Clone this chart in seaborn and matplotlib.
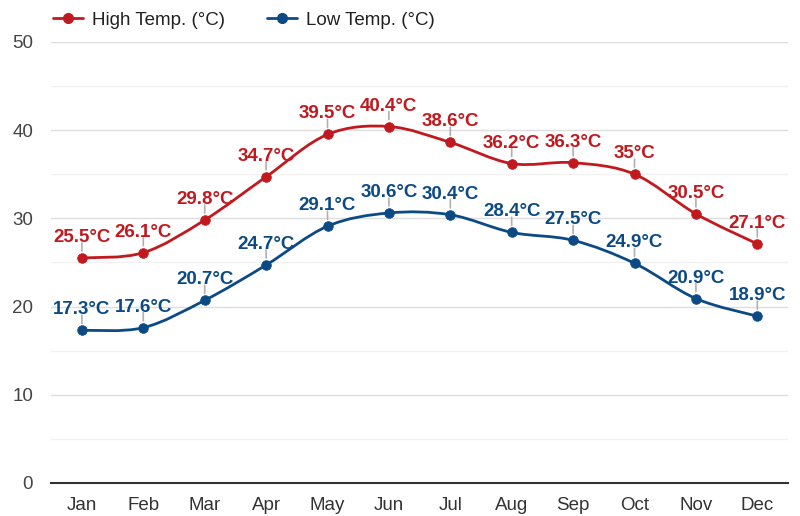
import matplotlib.pyplot as plt
import pandas as pd
import seaborn as sns
from matplotlib.lines import Line2D
from matplotlib.path import Path
from matplotlib.patches import PathPatch

months = ["Jan", "Feb", "Mar", "Apr", "May", "Jun", "Jul", "Aug", "Sep", "Oct", "Nov", "Dec"]
high_temp = [25.5, 26.1, 29.8, 34.7, 39.5, 40.4, 38.6, 36.2, 36.3, 35, 30.5, 27.1]
low_temp = [17.3, 17.6, 20.7, 24.7, 29.1, 30.6, 30.4, 28.4, 27.5, 24.9, 20.9, 18.9]

RED = "#c2191f"
BLUE = "#0c4a86"

sns.set_theme(style="white")
plt.rcParams["font.family"] = ["Liberation Sans", "DejaVu Sans"]


def smooth_path(xs, ys):
    # cubic bezier segments (catmull-rom style) so the curve passes through every point
    pts = list(zip(xs, ys))
    verts = [pts[0]]
    codes = [Path.MOVETO]
    n = len(pts)
    for i in range(n - 1):
        p0 = pts[i - 1] if i > 0 else pts[i]
        p1 = pts[i]
        p2 = pts[i + 1]
        p3 = pts[i + 2] if i + 2 < n else pts[i + 1]
        c1 = (p1[0] + (p2[0] - p0[0]) / 6, p1[1] + (p2[1] - p0[1]) / 6)
        c2 = (p2[0] - (p3[0] - p1[0]) / 6, p2[1] - (p3[1] - p1[1]) / 6)
        verts += [c1, c2, p2]
        codes += [Path.CURVE4] * 3
    return Path(verts, codes)


def label_fmt(v):
    return f"{v:g}°C"


df = pd.DataFrame({"month": months, "High": high_temp, "Low": low_temp})
df["x"] = range(len(months))

fig = plt.figure(figsize=(8, 5.16), dpi=100)
ax = fig.add_axes([0.064, 0.064, 0.921, 0.855])

for col, color in [("High", RED), ("Low", BLUE)]:
    patch = PathPatch(smooth_path(df["x"], df[col]), facecolor="none", edgecolor=color, lw=2, zorder=3)
    ax.add_patch(patch)
    sns.scatterplot(data=df, x="x", y=col, color=color, s=48, edgecolor=color, zorder=4, ax=ax)
    for x, v in zip(df["x"], df[col]):
        ax.annotate("", xy=(x, v), xytext=(0, 15), textcoords="offset pixels",
                    arrowprops=dict(arrowstyle="-", color="#b0b0b0", lw=1.2, shrinkA=0, shrinkB=5))
        ax.annotate(label_fmt(v), xy=(x, v), xytext=(0, 12), textcoords="offset pixels",
                    ha="center", va="bottom", color=color, fontsize=13.5, fontweight="bold", zorder=5)

ax.set_xlim(-0.5, 11.5)
ax.set_ylim(0, 50)
ax.set_xticks(df["x"])
ax.set_xticklabels(months)
ax.set_yticks([0, 10, 20, 30, 40, 50])
ax.set_yticks([5, 15, 25, 35, 45], minor=True)
ax.set_xlabel("")
ax.set_ylabel("")
ax.grid(axis="y", which="major", color="#dedede", lw=1)
ax.grid(axis="y", which="minor", color="#f1f1f1", lw=1)
ax.set_axisbelow(True)
for side in ["top", "right", "left"]:
    ax.spines[side].set_visible(False)
ax.spines["bottom"].set_color("#333333")
ax.spines["bottom"].set_linewidth(1.5)
ax.tick_params(axis="x", length=0, pad=10, labelsize=13.5, labelcolor="#333333")
ax.tick_params(axis="y", which="both", length=0, pad=13, labelsize=13.5, labelcolor="#444444")

handles = [
    Line2D([0], [0], color=RED, lw=2, marker="o", markersize=7, label="High Temp. (°C)"),
    Line2D([0], [0], color=BLUE, lw=2, marker="o", markersize=7, label="Low Temp. (°C)"),
]
fig.legend(handles=handles, loc="upper left", bbox_to_anchor=(0.045, 1.01), ncol=2, frameon=False,
           fontsize=13.5, handlelength=1.6, handletextpad=0.5, columnspacing=2.2, labelcolor="#222222")

fig.savefig("out.png", dpi=100)
